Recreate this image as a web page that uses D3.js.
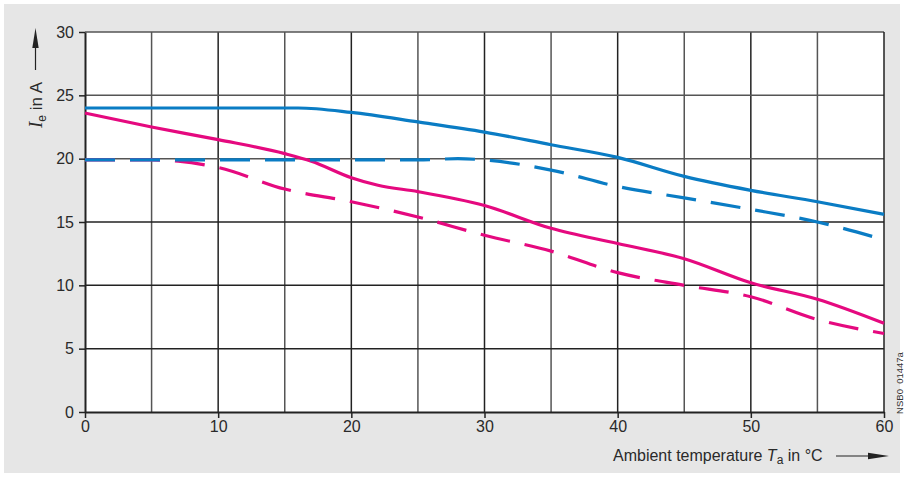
<!DOCTYPE html>
<html><head><meta charset="utf-8">
<script src="https://cdn.jsdelivr.net/npm/d3@7/dist/d3.min.js"></script>
<style>body{margin:0;background:#fff;} svg{display:block;font-family:"Liberation Sans",Arial,sans-serif;}</style>
</head><body>
<svg id="c" width="904" height="477"></svg>
<script>
const temps = [0,5,10,15,16,20,25,30,35,40,45,50,55,60];
const blueSolid = [24,24,24,24,24,23.65,22.9,22.1,21.1,20.1,18.6,17.5,16.6,15.6];
const tempsBD = [0,5,10,15,20,25,28,30,35,40,45,50,55,60];
const blueDashed = [19.9,19.9,19.9,19.9,19.9,19.9,20.0,19.9,19.1,17.8,16.9,16.0,15.0,13.6];
const tempsMS = [0,5,10,15,17,20,22,25,30,35,40,45,50,55,60];
const magentaSolid = [23.6,22.5,21.5,20.4,19.8,18.5,17.9,17.4,16.3,14.5,13.3,12.1,10.2,8.9,7.0];
const tempsMD = [0,5,7,10,15,20,25,30,35,40,45,50,55,60];
const magentaDashed = [19.9,19.9,19.8,19.3,17.6,16.6,15.4,13.95,12.7,11.0,10.0,9.1,7.3,6.2];
const xTicks = [0,10,20,30,40,50,60];
const yTicks = [0,5,10,15,20,25,30];

const svg = d3.select("#c");
svg.append("rect").attr("x",4).attr("y",4).attr("width",896).attr("height",469).attr("fill","#e6e6e6");

const x = d3.scaleLinear().domain([0,60]).range([85,884]);
const y = d3.scaleLinear().domain([0,30]).range([412,32]);

svg.append("rect").attr("x",x(0)).attr("y",y(30)).attr("width",x(60)-x(0)).attr("height",y(0)-y(30)).attr("fill","#fff");

const g = svg.append("g");
d3.range(5,60,5).forEach(v=>{
  g.append("line").attr("x1",x(v)).attr("x2",x(v)).attr("y1",y(0)).attr("y2",y(30))
   .attr("stroke", v%10===0?"#222":"#555").attr("stroke-width",1.5);
});
d3.range(5,31,5).forEach(v=>{
  g.append("line").attr("x1",x(0)).attr("x2",x(60)).attr("y1",y(v)).attr("y2",y(v))
   .attr("stroke", v<=15?"#222":"#555").attr("stroke-width",1.5);
});
g.append("line").attr("x1",x(60)).attr("x2",x(60)).attr("y1",y(0)).attr("y2",y(30)).attr("stroke","#222").attr("stroke-width",1.5);

const xAxis = svg.append("g").attr("transform",`translate(0,${y(0)})`)
  .call(d3.axisBottom(x).tickValues(xTicks).tickSize(6).tickPadding(3).tickSizeOuter(0));
const yAxis = svg.append("g").attr("transform",`translate(${x(0)},0)`)
  .call(d3.axisLeft(y).tickValues(yTicks).tickSize(6).tickPadding(5).tickSizeOuter(0));
[xAxis,yAxis].forEach(a=>{
  a.select(".domain").attr("stroke","#222").attr("stroke-width",2);
  a.selectAll(".tick line").attr("stroke","#222").attr("stroke-width",1.5);
  a.selectAll(".tick text").attr("font-size",16).attr("fill","#2a2a2a").attr("font-family","Liberation Sans, Arial, sans-serif");
});

function drawLine(xs, ys, color, dashed){
  const line = d3.line().x((d,i)=>x(xs[i])).y(d=>y(d)).curve(d3.curveMonotoneX);
  svg.append("path").datum(ys).attr("d",line).attr("fill","none")
    .attr("stroke",color).attr("stroke-width",3.2)
    .attr("stroke-dasharray",dashed?"30,15":null);
}
const blue="#0a7cc4", mag="#e5097f";
drawLine(tempsMD, magentaDashed, mag, true);
drawLine(tempsMS, magentaSolid, mag, false);
drawLine(tempsBD, blueDashed, blue, true);
drawLine(temps, blueSolid, blue, false);

// y label
const yl = svg.append("text").attr("transform","translate(42,105) rotate(-90)")
  .attr("text-anchor","middle").attr("font-size",17).attr("fill","#2a2a2a");
yl.append("tspan").attr("font-family","Liberation Serif, Times New Roman, serif").attr("font-style","italic").attr("font-size",19).text("I");
yl.append("tspan").attr("font-size",12).attr("dy",4).text("e");
yl.append("tspan").attr("dy",-4).text(" in A");
svg.append("line").attr("x1",35.5).attr("x2",35.5).attr("y1",70).attr("y2",44).attr("stroke","#222").attr("stroke-width",1.2);
svg.append("path").attr("d","M35.5,28 L32.3,48 L38.7,48 Z").attr("fill","#222");

// x label
const xl = svg.append("text").attr("x",613).attr("y",461).attr("font-size",16).attr("fill","#2a2a2a");
xl.append("tspan").text("Ambient temperature ");
xl.append("tspan").attr("font-style","italic").text("T");
xl.append("tspan").attr("font-size",12).attr("dy",3).text("a");
xl.append("tspan").attr("dy",-3).text(" in °C");
svg.append("line").attr("x1",836).attr("x2",872).attr("y1",456).attr("y2",456).attr("stroke","#222").attr("stroke-width",1.2);
svg.append("path").attr("d","M889,456 L868,452.8 L868,459.2 Z").attr("fill","#222");

svg.append("text").attr("transform","translate(903,383) rotate(-90)").attr("text-anchor","middle")
  .attr("font-size",9.5).attr("fill","#333").attr("xml:space","preserve").text("NSB0  01447a");
</script>
</body></html>
